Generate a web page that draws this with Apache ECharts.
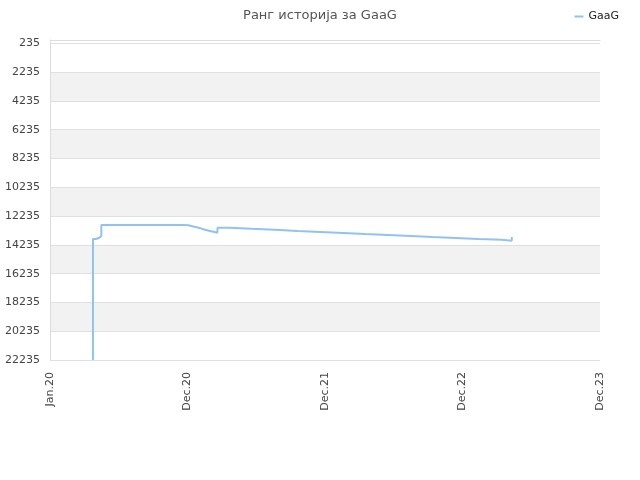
<!DOCTYPE html>
<html style="height: 100%">
<head>
<meta charset="utf-8">
</head>
<body style="height: 100%; margin: 0">
	<div id="container" style="width: 640px; height: 480px"></div>
	<script type="text/javascript" src="https://cdn.jsdelivr.net/npm/echarts@6/dist/echarts.min.js"></script>
	<script type="text/javascript">
		// months counted from the axis start (Jan.20)
		var months = [3.75, 3.75, 4.02, 4.30, 4.48, 11.63, 12.07, 12.42, 12.80, 13.15, 13.53, 13.88, 14.25, 14.60, 14.62,
			15.7, 17.6, 19.6, 21.6, 23.6, 25.6, 27.5, 29.5, 31.5, 33.4, 35.4, 37.4, 39.4, 40.3];
		var ranks = [22235, 13830, 13740, 13622, 12858, 12878, 12947, 13017, 13086, 13183, 13253, 13322, 13392, 13482, 13045,
			13115, 13184, 13275, 13344, 13414, 13483, 13553, 13622, 13692, 13761, 13831, 13886, 13948, 13692];
		var xTickLabels = ['Jan.20', 'Dec.20', 'Dec.21', 'Dec.22', 'Dec.23'];
		var yTicks = [235, 2235, 4235, 6235, 8235, 10235, 12235, 14235, 16235, 18235, 20235, 22235];

		var points = [];
		for (var i = 0; i < months.length; i++) {
			points.push([months[i], ranks[i]]);
		}

		var dom = document.getElementById("container");
		var myChart = echarts.init(dom);
		var option = {
			animation: false,
			title: {
				text: 'Ранг историја за GaaG',
				left: 'center',
				top: 4,
				textStyle: { fontSize: 13, fontWeight: 'normal', color: '#555', fontFamily: 'DejaVu Sans' }
			},
			legend: {
				right: 16,
				top: 6,
				icon: 'rect',
				itemWidth: 9,
				itemHeight: 2,
				itemGap: 6,
				textStyle: { fontSize: 11, color: '#222', fontFamily: 'DejaVu Sans' },
				data: ['GaaG']
			},
			grid: { left: 50, right: 40, top: 40, bottom: 120 },
			xAxis: {
				type: 'value',
				min: 0,
				max: 48,
				interval: 12,
				axisLine: { lineStyle: { color: '#ddd' } },
				axisTick: { show: false },
				splitLine: { show: false },
				axisLabel: {
					rotate: 90,
					fontSize: 11,
					margin: 12,
					color: '#444',
					fontFamily: 'DejaVu Sans',
					formatter: function (v) { return xTickLabels[Math.round(v / 12)]; }
				}
			},
			yAxis: {
				type: 'value',
				inverse: true,
				min: 0,
				max: 22235,
				axisLine: { show: true, lineStyle: { color: '#ddd' } },
				axisTick: { show: false, customValues: yTicks },
				axisLabel: {
					customValues: yTicks, fontSize: 11, color: '#444', fontFamily: 'DejaVu Sans', margin: 10,
					formatter: function (v) { return String(v); }
				},
				splitLine: { show: true, lineStyle: { color: '#e0e0e0' } },
				splitArea: { show: true, areaStyle: { color: ['#ffffff', '#f2f2f2'] } }
			},
			series: [{
				name: 'GaaG',
				type: 'line',
				step: 'end',
				showSymbol: false,
				color: '#90c3f2',
				lineStyle: { width: 2 },
				data: points
			}]
		};
		myChart.setOption(option);
	</script>
</body>
</html>
